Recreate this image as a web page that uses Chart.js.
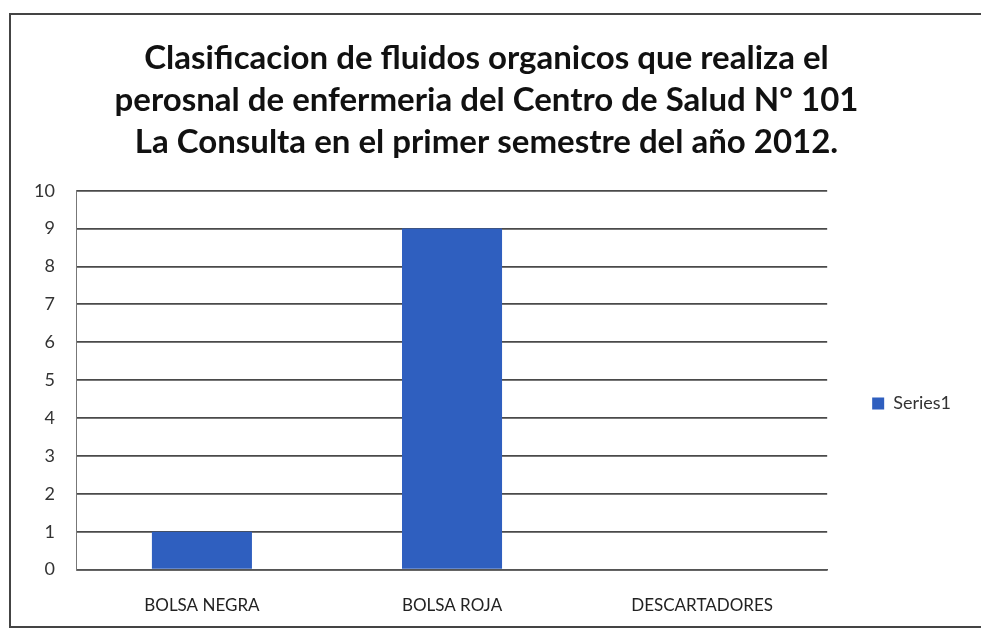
<!DOCTYPE html>
<html>
<head>
<meta charset="utf-8">
<script src="https://cdn.jsdelivr.net/npm/chart.js@4/dist/chart.umd.min.js"></script>
<style>
  html, body { margin: 0; padding: 0; background: #fff; }
  #wrap { width: 981px; height: 630px; }
</style>
</head>
<body>
<div id="wrap"><canvas id="grafico" width="981" height="630"></canvas></div>
<script>
var categorias = ["BOLSA NEGRA", "BOLSA ROJA", "DESCARTADORES"];
var serie1 = [1, 9, 0];
var titulo = [
  "Clasificacion de fluidos organicos que realiza el",
  "perosnal de enfermeria del Centro de Salud N° 101",
  "La Consulta en el primer semestre del año 2012."
];

// marco de la hoja escaneada
var marco = {
  id: "marco",
  beforeDraw: function (chart) {
    var ctx = chart.ctx;
    ctx.save();
    ctx.fillStyle = "#fff";
    ctx.fillRect(0, 0, chart.width, chart.height);
    ctx.strokeStyle = "#444";
    ctx.lineWidth = 2;
    ctx.beginPath();
    ctx.moveTo(981, 14);
    ctx.lineTo(10, 14);
    ctx.lineTo(10, 627);
    ctx.lineTo(981, 627);
    ctx.stroke();
    ctx.restore();
  }
};

new Chart("grafico", {
  type: "bar",
  data: {
    labels: categorias,
    datasets: [{
      label: "Series1",
      data: serie1,
      backgroundColor: "#2F5FBF",
      categoryPercentage: 1,
      barPercentage: 0.4
    }]
  },
  plugins: [marco],
  options: {
    responsive: false,
    animation: false,
    layout: { padding: { left: 12, right: 20, top: 12, bottom: -4 } },
    plugins: {
      title: {
        display: true,
        text: titulo,
        color: "#111",
        font: { family: "Lato", size: 33, weight: "bold", lineHeight: 1.28 },
        padding: { top: 25, bottom: 27 }
      },
      legend: {
        display: true,
        position: "right",
        title: { display: true, text: "", padding: { top: 82, bottom: 78 }, font: { size: 1, lineHeight: 1 } },
        labels: {
          boxWidth: 12,
          boxHeight: 12,
          color: "#333",
          padding: 45,
          font: { family: "Lato", size: 18 }
        }
      },
      tooltip: { enabled: false }
    },
    scales: {
      x: {
        grid: { display: false },
        border: { display: true, color: "#555", width: 1.5 },
        ticks: { color: "#222", padding: 18, font: { family: "Lato", size: 17 } }
      },
      y: {
        min: 0,
        max: 10,
        ticks: { stepSize: 1, color: "#333", padding: 22, font: { family: "Lato", size: 18 } },
        grid: { color: "#4a4a4a", lineWidth: 1.8, drawTicks: false },
        border: { display: true, color: "#777", width: 1 }
      }
    }
  }
});
</script>
</body>
</html>
